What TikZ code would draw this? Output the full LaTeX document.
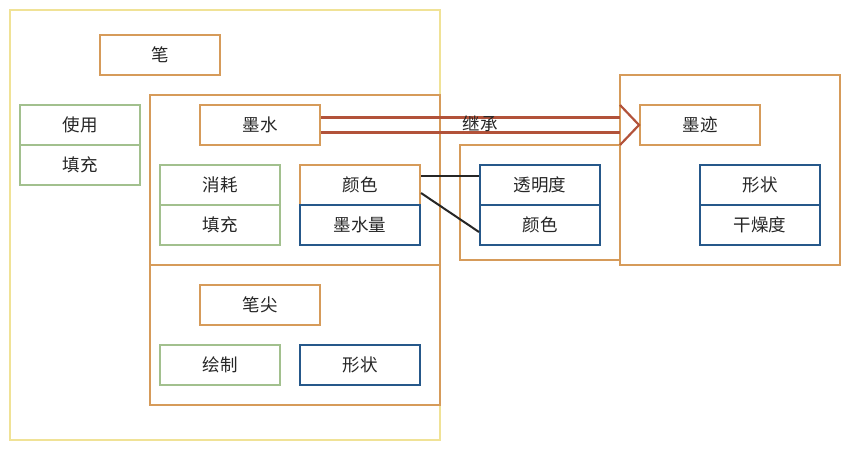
\documentclass[tikz,border=0pt]{standalone}
\usepackage{fontspec}
\newfontfamily\cjk{Noto Sans CJK SC}
\usetikzlibrary{calc}

\definecolor{penyellow}{RGB}{240,226,150}
\definecolor{boxorange}{RGB}{214,155,90}
\definecolor{boxgreen}{RGB}{162,192,142}
\definecolor{boxblue}{RGB}{38,88,138}
\definecolor{arrowred}{RGB}{178,82,58}

\tikzset{
  box/.style={draw=boxorange, line width=2pt, minimum width=120pt, minimum height=40pt,
    inner sep=0pt, text=black!85, font=\cjk\fontsize{17.5}{20}\selectfont},
  greenbox/.style={box, draw=boxgreen},
  bluebox/.style={box, draw=boxblue},
  part/.style={draw=boxorange, line width=2pt, inner sep=0pt},
  link/.style={line width=2pt, draw=black!85},
  inherit/.style={line width=2.2pt, draw=arrowred},
}

\begin{document}
\begin{tikzpicture}[x=1pt,y=-1pt]
\useasboundingbox (0,0) rectangle (860,460);
\fill[white] (0,0) rectangle (860,460);

% Containers
\node[part, draw=penyellow, minimum width=430pt, minimum height=430pt] (pen) at (225,225) {};
\node[part, minimum width=290pt, minimum height=170pt] (inkpart) at (295,180) {};
\node[part, minimum width=290pt, minimum height=140pt] (nibpart) at (295,335) {};
\node[part, minimum width=160pt, minimum height=115pt] (colorpart) at (540,202.5) {};
\node[part, minimum width=220pt, minimum height=190pt] (tracepart) at (730,170) {};

% Pen
\node[box] (bi) at (160,55) {笔};
\node[greenbox] (shiyong) at (80,125) {使用};
\node[greenbox] (tianchong) at (80,165) {填充};

% Ink
\node[box] (moshui) at (260,125) {墨水};
\node[greenbox] (xiaohao) at (220,185) {消耗};
\node[greenbox] (tianchong2) at (220,225) {填充};
\node[box] (yanse) at (360,185) {颜色};
\node[bluebox] (moshuiliang) at (360,225) {墨水量};

% Nib
\node[box] (bijian) at (260,305) {笔尖};
\node[greenbox] (huizhi) at (220,365) {绘制};
\node[bluebox] (xingzhuang) at (360,365) {形状};

% Color
\node[bluebox] (toumingdu) at (540,185) {透明度};
\node[bluebox] (yanse2) at (540,225) {颜色};

% Ink trace
\node[box] (mohen) at (700,125) {墨迹};
\node[bluebox] (xingzhuang2) at (760,185) {形状};
\node[bluebox] (ganzaodu) at (760,225) {干燥度};

% Links
\draw[link] ([yshift=9pt]yanse.east) -- ([yshift=9pt]toumingdu.west);
\draw[link] ([yshift=-8pt]yanse.east) -- ([yshift=-7pt]yanse2.west);

% Inheritance
\coordinate (headbase) at (620,125);
\draw[inherit] ([yshift=7.5pt]moshui.east) -- ([yshift=7.5pt]headbase);
\draw[inherit] ([yshift=-7.5pt]moshui.east) -- ([yshift=-7.5pt]headbase);
\draw[inherit] ([yshift=20pt]headbase) -- (mohen.west) -- ([yshift=-20pt]headbase);
\node[text=black!85, font=\cjk\fontsize{17.5}{20}\selectfont] (jicheng) at (480,124) {继承};
\end{tikzpicture}
\end{document}
